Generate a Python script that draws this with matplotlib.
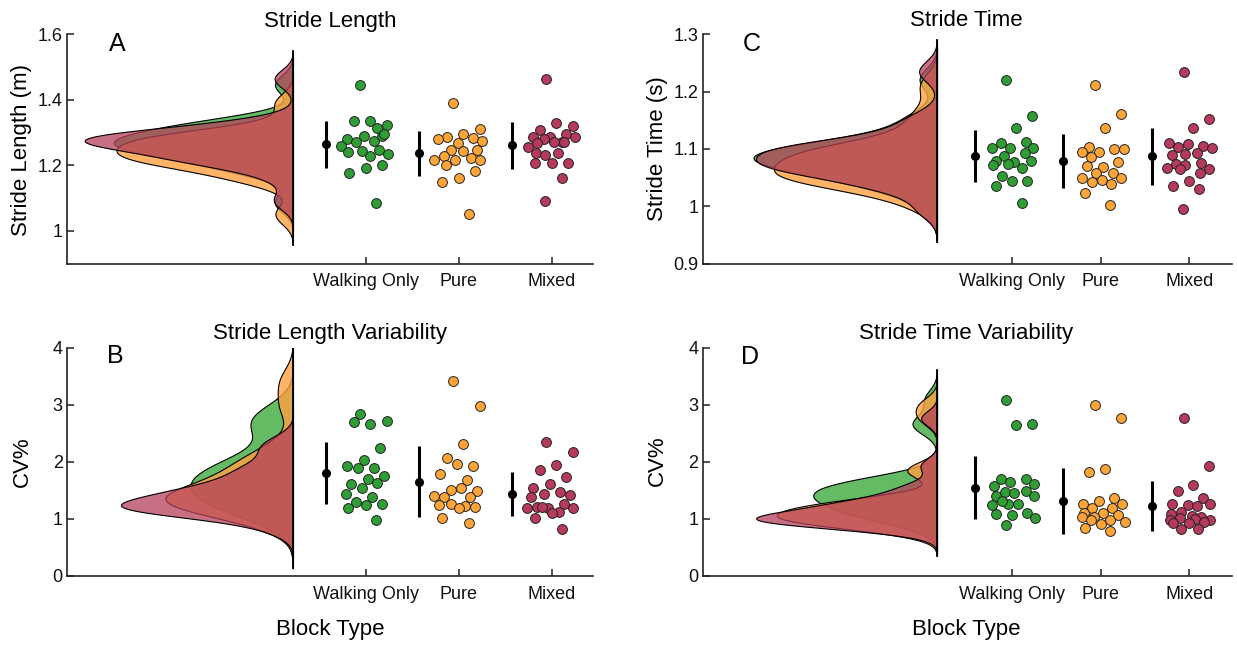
import numpy as np
import matplotlib
matplotlib.use('Agg')
import matplotlib.pyplot as plt
from matplotlib.colors import to_rgba

plt.rcParams['font.family'] = ['Liberation Sans', 'DejaVu Sans']

# ---------------- data ----------------
categories = ['Walking Only', 'Pure', 'Mixed']

wo_len = [1.446, 1.324, 1.334, 1.335, 1.314, 1.289, 1.281, 1.273, 1.289, 1.296, 1.270,
          1.260, 1.248, 1.245, 1.240, 1.235, 1.228, 1.200, 1.191, 1.177, 1.086]
pure_len = [1.389, 1.311, 1.294, 1.286, 1.284, 1.280, 1.275, 1.269, 1.248, 1.248, 1.244,
            1.228, 1.222, 1.215, 1.216, 1.215, 1.200, 1.182, 1.162, 1.150, 1.050]
mixed_len = [1.464, 1.321, 1.328, 1.309, 1.296, 1.287, 1.286, 1.286, 1.279, 1.270, 1.270,
             1.267, 1.272, 1.256, 1.238, 1.236, 1.231, 1.206, 1.208, 1.206, 1.162, 1.091]

wo_time = [1.221, 1.157, 1.137, 1.110, 1.112, 1.101, 1.102, 1.101, 1.088, 1.092, 1.077,
           1.079, 1.079, 1.074, 1.072, 1.066, 1.053, 1.044, 1.044, 1.035, 1.005]
pure_time = [1.211, 1.161, 1.136, 1.104, 1.099, 1.095, 1.094, 1.100, 1.086, 1.078, 1.069,
             1.070, 1.058, 1.058, 1.049, 1.050, 1.045, 1.043, 1.039, 1.023, 1.002]
mixed_time = [1.235, 1.153, 1.136, 1.103, 1.105, 1.108, 1.110, 1.102, 1.091, 1.092, 1.090,
              1.073, 1.075, 1.072, 1.067, 1.065, 1.065, 1.058, 1.044, 1.036, 1.030, 0.995]

wo_lenvar = [2.84, 2.71, 2.66, 2.70, 2.24, 2.03, 1.93, 1.89, 1.90, 1.75, 1.70,
             1.62, 1.63, 1.55, 1.44, 1.38, 1.30, 1.26, 1.24, 1.19, 0.98]
pure_lenvar = [3.41, 2.97, 2.31, 2.06, 1.93, 1.97, 1.78, 1.68, 1.51, 1.49, 1.55,
               1.38, 1.38, 1.40, 1.25, 1.22, 1.26, 1.21, 1.20, 1.02, 0.92]
mixed_lenvar = [2.35, 2.18, 1.94, 1.85, 1.74, 1.62, 1.54, 1.48, 1.44, 1.42, 1.38,
                1.21, 1.27, 1.20, 1.20, 1.19, 1.21, 1.13, 1.10, 1.01, 0.82]

wo_timevar = [3.09, 2.66, 2.65, 1.70, 1.70, 1.65, 1.58, 1.61, 1.48, 1.49, 1.45,
              1.40, 1.40, 1.27, 1.25, 1.26, 1.31, 1.11, 1.07, 1.08, 1.02, 0.89]
pure_timevar = [3.00, 2.76, 1.87, 1.83, 1.36, 1.31, 1.27, 1.27, 1.20, 1.20, 1.10,
                1.10, 1.07, 1.03, 1.03, 0.98, 0.98, 0.94, 0.91, 0.84, 0.79]
mixed_timevar = [2.76, 1.93, 1.59, 1.49, 1.37, 1.24, 1.26, 1.23, 1.26, 1.13, 1.05,
                 1.08, 1.04, 0.98, 0.98, 0.99, 1.01, 0.95, 0.92, 0.93, 0.82, 0.82]

mean_len = [1.264, 1.236, 1.261]
sd_len = [0.071, 0.069, 0.071]
mean_time = [1.088, 1.079, 1.087]
sd_time = [0.045, 0.047, 0.050]
mean_lenvar = [1.80, 1.655, 1.435]
sd_lenvar = [0.54, 0.615, 0.385]
mean_timevar = [1.55, 1.32, 1.225]
sd_timevar = [0.56, 0.58, 0.435]

len_ticks = [1.0, 1.2, 1.4, 1.6]
len_ticklabels = ['1', '1.2', '1.4', '1.6']
time_ticks = [0.9, 1.0, 1.1, 1.2, 1.3]
time_ticklabels = ['0.9', '1', '1.1', '1.2', '1.3']
cv_ticks = [0, 1, 2, 3, 4]
cv_ticklabels = ['0', '1', '2', '3', '4']

# ---------------- style ----------------
W, H = 1237, 646
dot_colors = ['#2F9E34', '#FFA537', '#B63A5C']
violin_colors = [to_rgba('#3DAA3D', 0.8), to_rgba('#FFA040', 0.8), to_rgba('#B5405A', 0.75)]


def rect(l, r, t, b):
    return [l / W, 1 - b / H, (r - l) / W, (b - t) / H]


def kde(vals):
    v = np.asarray(vals, dtype=float)
    n = len(v)
    sig = np.median(np.abs(v - np.median(v))) / 0.6745
    h = sig * (4.0 / (3.0 * n)) ** 0.2
    y = np.linspace(v.min() - 3 * h, v.max() + 3 * h, 400)
    d = np.exp(-0.5 * ((y[:, None] - v[None, :]) / h) ** 2).sum(1) / (n * h * np.sqrt(2 * np.pi))
    return y, d


def swarm_x(ax, xc, vals, halfwidth=0.27, diam=9.4):
    tr = ax.transData
    placed = []
    xs = []
    golden = 0.6180339887
    grid = np.linspace(-halfwidth, halfwidth, 61)
    for i, v in enumerate(vals):
        target = (((i * golden + 0.37) % 1.0) - 0.5) * 2 * halfwidth * 0.85
        cands = grid[np.argsort(np.abs(grid - target))]
        chosen = cands[0]
        for c in cands:
            p = tr.transform((xc + c, v))
            if all(np.hypot(p[0] - q[0], p[1] - q[1]) >= diam for q in placed):
                chosen = c
                break
        placed.append(tr.transform((xc + chosen, v)))
        xs.append(xc + chosen)
    return xs


fig = plt.figure(figsize=(W / 100, H / 100), dpi=100)

panels = [
    dict(rect=rect(66.8, 593, 34.3, 263.5), xlim=(-2.214, 3.444), ylim=(0.9, 1.6),
         ticks=len_ticks, ticklabels=len_ticklabels, base=0.218, vwidth=2.24, moff=-0.431,
         groups=[wo_len, pure_len, mixed_len], means=mean_len, sds=sd_len,
         title='Stride Length', tpos=(330, 21), letter='A', lpos=(117, 44),
         ylabel='Stride Length (m)', ylpos=(22, 150), xlabel=None),
    dict(rect=rect(702.6, 1231.7, 34.3, 263.5), xlim=(-2.49, 3.478), ylim=(0.9, 1.3),
         ticks=time_ticks, ticklabels=time_ticklabels, base=0.154, vwidth=2.07, moff=-0.42,
         groups=[wo_time, pure_time, mixed_time], means=mean_time, sds=sd_time,
         title='Stride Time', tpos=(966, 21), letter='C', lpos=(752, 44),
         ylabel='Stride Time (s)', ylpos=(657, 149), xlabel=None),
    dict(rect=rect(66.8, 593, 347.7, 576), xlim=(-2.214, 3.444), ylim=(0, 4),
         ticks=cv_ticks, ticklabels=cv_ticklabels, base=0.218, vwidth=1.85, moff=-0.431,
         groups=[wo_lenvar, pure_lenvar, mixed_lenvar], means=mean_lenvar, sds=sd_lenvar,
         title='Stride Length Variability', tpos=(330, 333), letter='B', lpos=(115, 356),
         ylabel='CV%', ylpos=(22, 462), xlabel='Block Type', xlpos=(330, 630)),
    dict(rect=rect(702.6, 1231.7, 347.7, 576), xlim=(-2.49, 3.478), ylim=(0, 4),
         ticks=cv_ticks, ticklabels=cv_ticklabels, base=0.154, vwidth=2.04, moff=-0.42,
         groups=[wo_timevar, pure_timevar, mixed_timevar], means=mean_timevar, sds=sd_timevar,
         title='Stride Time Variability', tpos=(966, 333), letter='D', lpos=(750, 357),
         ylabel='CV%', ylpos=(657, 461), xlabel='Block Type', xlpos=(966, 630)),
]

for p in panels:
    ax = fig.add_axes(p['rect'])
    ax.set_xlim(*p['xlim'])
    ax.set_ylim(*p['ylim'])
    for s in ['top', 'right']:
        ax.spines[s].set_visible(False)
    for s in ['left', 'bottom']:
        ax.spines[s].set_linewidth(1.2)
        ax.spines[s].set_color('#222222')
    ax.set_yticks(p['ticks'])
    ax.set_yticklabels(p['ticklabels'])
    ax.set_xticks([1, 2, 3])
    ax.set_xticklabels(categories)
    ax.tick_params(axis='both', direction='in', length=5, width=1.1, labelsize=13,
                   colors='#222222', labelcolor='#111111')
    ax.tick_params(axis='y', pad=3)
    ax.tick_params(axis='x', pad=7)

    # half violins (kernel density)
    kd = [kde(g) for g in p['groups']]
    dmax = max(d.max() for _, d in kd)
    scale = p['vwidth'] / dmax
    ylo = min(y.min() for y, _ in kd)
    yhi = max(y.max() for y, _ in kd)
    for k, (y, d) in enumerate(kd):
        ax.fill_betweenx(y, p['base'] - d * scale, p['base'], facecolor=violin_colors[k],
                         edgecolor='black', linewidth=0.8, zorder=2 + k)
    ax.plot([p['base'], p['base']], [ylo, yhi], color='black', lw=1.3, zorder=6)

    # mean +- sd
    for i in range(3):
        xm = i + 1 + p['moff']
        m, s = p['means'][i], p['sds'][i]
        ax.plot([xm, xm], [m - s, m + s], color='black', lw=2.2, zorder=7, solid_capstyle='butt')
        ax.plot([xm], [m], 'o', color='black', ms=5.5, zorder=8)

    # individual points
    for i, g in enumerate(p['groups']):
        xs = swarm_x(ax, i + 1, g)
        ax.scatter(xs, g, s=50, facecolor=dot_colors[i], edgecolor='#222222',
                   linewidth=0.7, zorder=9)

    fig.text(p['tpos'][0] / W, 1 - p['tpos'][1] / H, p['title'], ha='center', va='center',
             fontsize=16)
    fig.text(p['lpos'][0] / W, 1 - p['lpos'][1] / H, p['letter'], ha='center', va='center',
             fontsize=18)
    fig.text(p['ylpos'][0] / W, 1 - p['ylpos'][1] / H, p['ylabel'], ha='center', va='center',
             rotation=90, fontsize=16)
    if p['xlabel']:
        fig.text(p['xlpos'][0] / W, 1 - p['xlpos'][1] / H, p['xlabel'], ha='center',
                 va='center', fontsize=16)

fig.savefig('out.png', dpi=100)
